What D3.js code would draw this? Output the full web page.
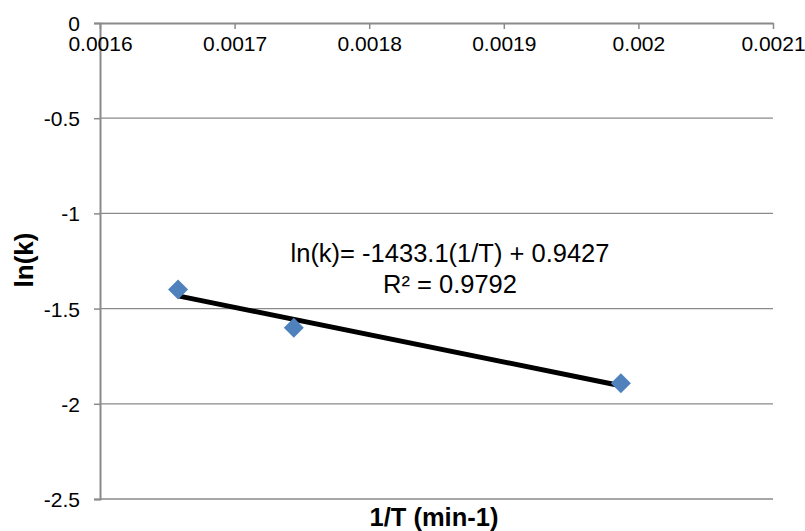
<!DOCTYPE html>
<html><head><meta charset="utf-8">
<script src="https://cdn.jsdelivr.net/npm/d3@7"></script>
<style>html,body{margin:0;padding:0;background:#fff;}svg{display:block;font-family:"Liberation Sans",Arial,sans-serif;}</style>
</head><body>
<svg id="c" width="805" height="531"></svg>
<script>
const invT = [0.001658, 0.001744, 0.001987];
const lnK = [-1.40, -1.60, -1.892];
const xTicks = [0.0016, 0.0017, 0.0018, 0.0019, 0.002, 0.0021];
const xTickLabels = ["0.0016", "0.0017", "0.0018", "0.0019", "0.002", "0.0021"];
const yTicks = [0, -0.5, -1, -1.5, -2, -2.5];
const yTickLabels = ["0", "-0.5", "-1", "-1.5", "-2", "-2.5"];
const slope = -1433.1, intercept = 0.9427;
const eqLines = ["ln(k)= -1433.1(1/T) + 0.9427", "R\u00b2 = 0.9792"];
const xTitle = "1/T (min-1)", yTitle = "ln(k)";

const svg = d3.select("#c");
const L = 100, R = 773, T = 23, B = 499;
const x = d3.scaleLinear().domain([0.0016, 0.0021]).range([L, R]);
const y = d3.scaleLinear().domain([0, -2.5]).range([T, B]);
const grey = "#8a8a8a";

// grid
svg.append("g").selectAll("line").data(yTicks.slice(1)).join("line")
  .attr("x1", L).attr("x2", R).attr("y1", d => y(d)).attr("y2", d => y(d))
  .attr("stroke", grey).attr("stroke-width", 1.3);

// y axis
const ya = svg.append("g").attr("transform", `translate(${L},0)`)
  .call(d3.axisLeft(y).tickValues(yTicks).tickFormat((d,i) => yTickLabels[i]).tickSize(6).tickPadding(14));
ya.select(".domain").attr("stroke", grey).attr("stroke-width", 2);
ya.selectAll(".tick line").attr("stroke", grey).attr("stroke-width", 1.5);
ya.selectAll("text").attr("font-size", 21).attr("fill", "#000")
  .attr("font-family", "Liberation Sans, Arial, sans-serif").attr("dy", "0.36em");

// x axis at top (y=0) with labels below
const xa = svg.append("g").attr("transform", `translate(0,${y(0)})`)
  .call(d3.axisBottom(x).tickValues(xTicks).tickFormat((d,i) => xTickLabels[i]).tickSize(6).tickSizeOuter(0).tickPadding(7));
xa.select(".domain").attr("stroke", grey).attr("stroke-width", 2);
xa.selectAll(".tick line").attr("stroke", grey).attr("stroke-width", 1.5);
xa.selectAll("text").attr("font-size", 21).attr("fill", "#000")
  .attr("font-family", "Liberation Sans, Arial, sans-serif");

// trendline
const x0 = d3.min(invT), x1 = d3.max(invT);
svg.append("line")
  .attr("x1", x(x0)).attr("y1", y(slope * x0 + intercept))
  .attr("x2", x(x1)).attr("y2", y(slope * x1 + intercept))
  .attr("stroke", "#000").attr("stroke-width", 5);

// markers
const sym = d3.symbol().type(d3.symbolSquare).size(200);
svg.append("g").selectAll("path").data(invT).join("path")
  .attr("d", sym)
  .attr("transform", (d,i) => `translate(${x(d)},${y(lnK[i])}) rotate(45)`)
  .attr("fill", "#4f81bd");

// equation
svg.append("g").selectAll("text").data(eqLines).join("text")
  .attr("x", 450).attr("y", (d,i) => 262 + i * 31)
  .attr("text-anchor", "middle").attr("font-size", 25.5).attr("fill", "#000")
  .text(d => d);

// titles
svg.append("text").attr("x", 434).attr("y", 526).attr("text-anchor", "middle")
  .attr("font-size", 25.5).attr("font-weight", "bold").text(xTitle);
svg.append("text").attr("transform", "translate(33,260) rotate(-90)")
  .attr("text-anchor", "middle").attr("font-size", 26).attr("font-weight", "bold").text(yTitle);
</script>
</body></html>
